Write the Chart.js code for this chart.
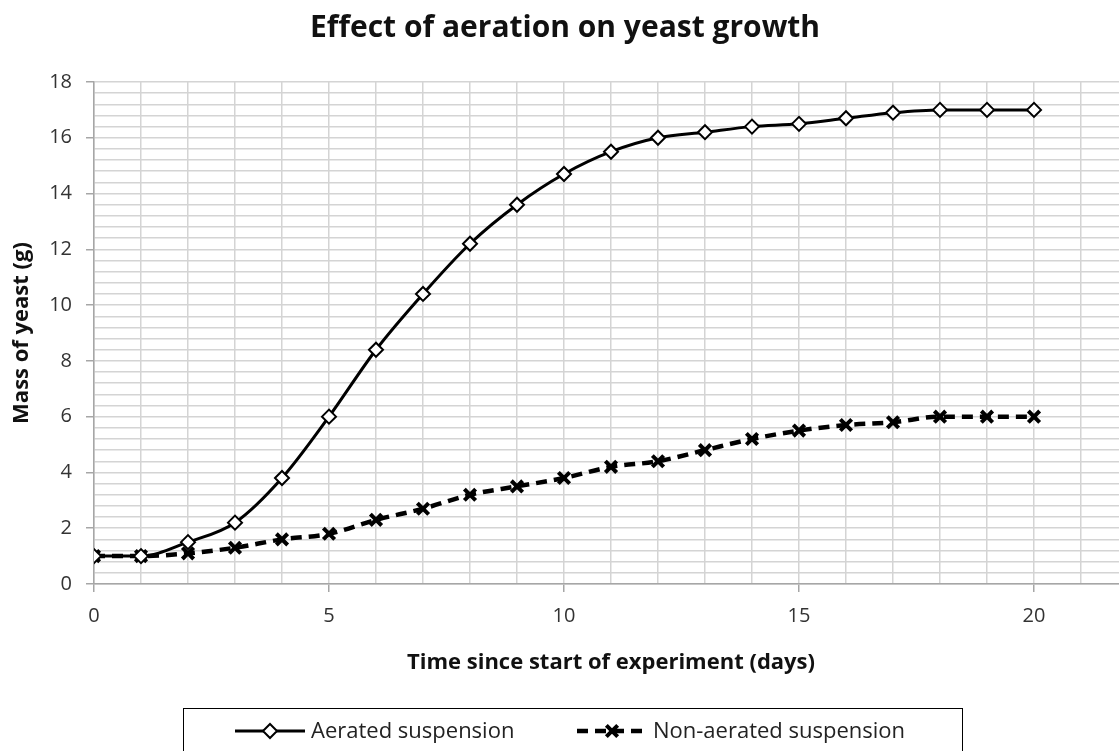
<!DOCTYPE html>
<html>
<head>
<meta charset="utf-8">
<script src="https://cdn.jsdelivr.net/npm/chart.js@4"></script>
<style>
html,body{margin:0;padding:0;background:#fff;overflow:hidden}
#wrap{width:1140px;height:751px}
</style>
</head>
<body>
<div id="wrap"><canvas id="yeastChart" width="1140" height="751"></canvas></div>
<script>
// data
let days = [0,1,2,3,4,5,6,7,8,9,10,11,12,13,14,15,16,17,18,19,20]
let aerated = [1,1,1.5,2.2,3.8,6,8.4,10.4,12.2,13.6,14.7,15.5,16,16.2,16.4,16.5,16.7,16.9,17,17,17]
let nonAerated = [1,1,1.1,1.3,1.6,1.8,2.3,2.7,3.2,3.5,3.8,4.2,4.4,4.8,5.2,5.5,5.7,5.8,6,6,6]
let seriesNames = ["Aerated suspension","Non-aerated suspension"]

let fontName = "'Open Sans', sans-serif"

function pts(vals){
  return vals.map((v,i) => ({x:days[i], y:v}))
}

function isMajor(v, step){
  return Math.abs(v/step - Math.round(v/step)) < 1e-6
}

// legend in a box under the plot, line sample + marker like the original
let boxLegend = {
  id:"boxLegend",
  afterDraw(chart){
    let ctx = chart.ctx
    ctx.save()
    ctx.strokeStyle = "#000"
    ctx.lineWidth = 1
    ctx.strokeRect(183.5, 708.5, 779, 60)
    let starts = [235, 577]
    let cy = 731
    chart.data.datasets.forEach((ds,i) => {
      let x0 = starts[i]
      ctx.strokeStyle = "#000"
      ctx.lineWidth = ds.borderWidth
      ctx.setLineDash(ds.borderDash || [])
      ctx.beginPath()
      ctx.moveTo(x0, cy)
      ctx.lineTo(x0+70, cy)
      ctx.stroke()
      ctx.setLineDash([])
      ctx.fillStyle = ds.pointBackgroundColor
      ctx.strokeStyle = "#000"
      ctx.lineWidth = ds.pointBorderWidth
      Chart.helpers.drawPoint(ctx, {pointStyle:ds.pointStyle, radius:ds.pointRadius, rotation:0, borderWidth:ds.pointBorderWidth}, x0+35, cy)
      ctx.fillStyle = "#222"
      ctx.font = "22px " + fontName
      ctx.textBaseline = "middle"
      ctx.textAlign = "left"
      ctx.fillText(ds.label, x0+76, cy+1)
    })
    ctx.restore()
  }
}

let chart = new Chart(document.getElementById("yeastChart"),{
  type:"line",
  data:{
    datasets:[{
      label:seriesNames[0],
      data:pts(aerated),
      borderColor:"#000",
      borderWidth:3,
      cubicInterpolationMode:"monotone",
      pointStyle:"rectRot",
      pointRadius:7,
      pointBackgroundColor:"#fff",
      pointBorderColor:"#000",
      pointBorderWidth:2
    },{
      label:seriesNames[1],
      data:pts(nonAerated),
      borderColor:"#000",
      borderWidth:4.5,
      borderDash:[11,7],
      cubicInterpolationMode:"monotone",
      pointStyle:"crossRot",
      pointRadius:8,
      pointBackgroundColor:"#000",
      pointBorderColor:"#000",
      pointBorderWidth:4
    }]
  },
  options:{
    responsive:false,
    animation:false,
    layout:{padding:{left:0,right:10,top:0,bottom:67}},
    plugins:{
      legend:{display:false},
      tooltip:{enabled:false},
      title:{
        display:true,
        text:"Effect of aeration on yeast growth",
        color:"#111",
        font:{family:fontName, size:30, weight:"bold"},
        padding:{top:10,bottom:36}
      }
    },
    scales:{
      x:{
        type:"linear",
        min:0,
        max:22,
        afterFit(s){ s.height = 100 },
        border:{color:"#a6a6a6", width:1.5},
        grid:{
          color:"#d4d4d4",
          lineWidth:1.5,
          tickLength:8,
          tickColor:c => isMajor(c.tick.value,5) ? "#a6a6a6" : "rgba(0,0,0,0)"
        },
        ticks:{
          stepSize:1,
          autoSkip:false,
          maxRotation:0,
          includeBounds:false,
          padding:12,
          color:"#333",
          font:{family:fontName, size:20},
          callback:v => isMajor(v,5) ? String(Math.round(v)) : ""
        },
        title:{
          display:true,
          text:"Time since start of experiment (days)",
          color:"#111",
          font:{family:fontName, size:22, weight:"bold"},
          padding:{top:4,bottom:8}
        }
      },
      y:{
        min:0,
        max:18,
        afterFit(s){ s.width = 94 },
        border:{color:"#a6a6a6", width:1.5},
        grid:{
          color:"#d4d4d4",
          lineWidth:1.5,
          tickLength:8,
          tickColor:c => isMajor(c.tick.value,2) ? "#a6a6a6" : "rgba(0,0,0,0)"
        },
        ticks:{
          stepSize:0.4,
          autoSkip:false,
          padding:14,
          color:"#333",
          font:{family:fontName, size:20},
          callback:v => isMajor(v,2) ? String(Math.round(v)) : ""
        },
        title:{
          display:true,
          text:"Mass of yeast (g)",
          color:"#111",
          font:{family:fontName, size:22, weight:"bold"},
          padding:{top:9,bottom:4}
        }
      }
    }
  },
  plugins:[boxLegend]
})
</script>
</body>
</html>
